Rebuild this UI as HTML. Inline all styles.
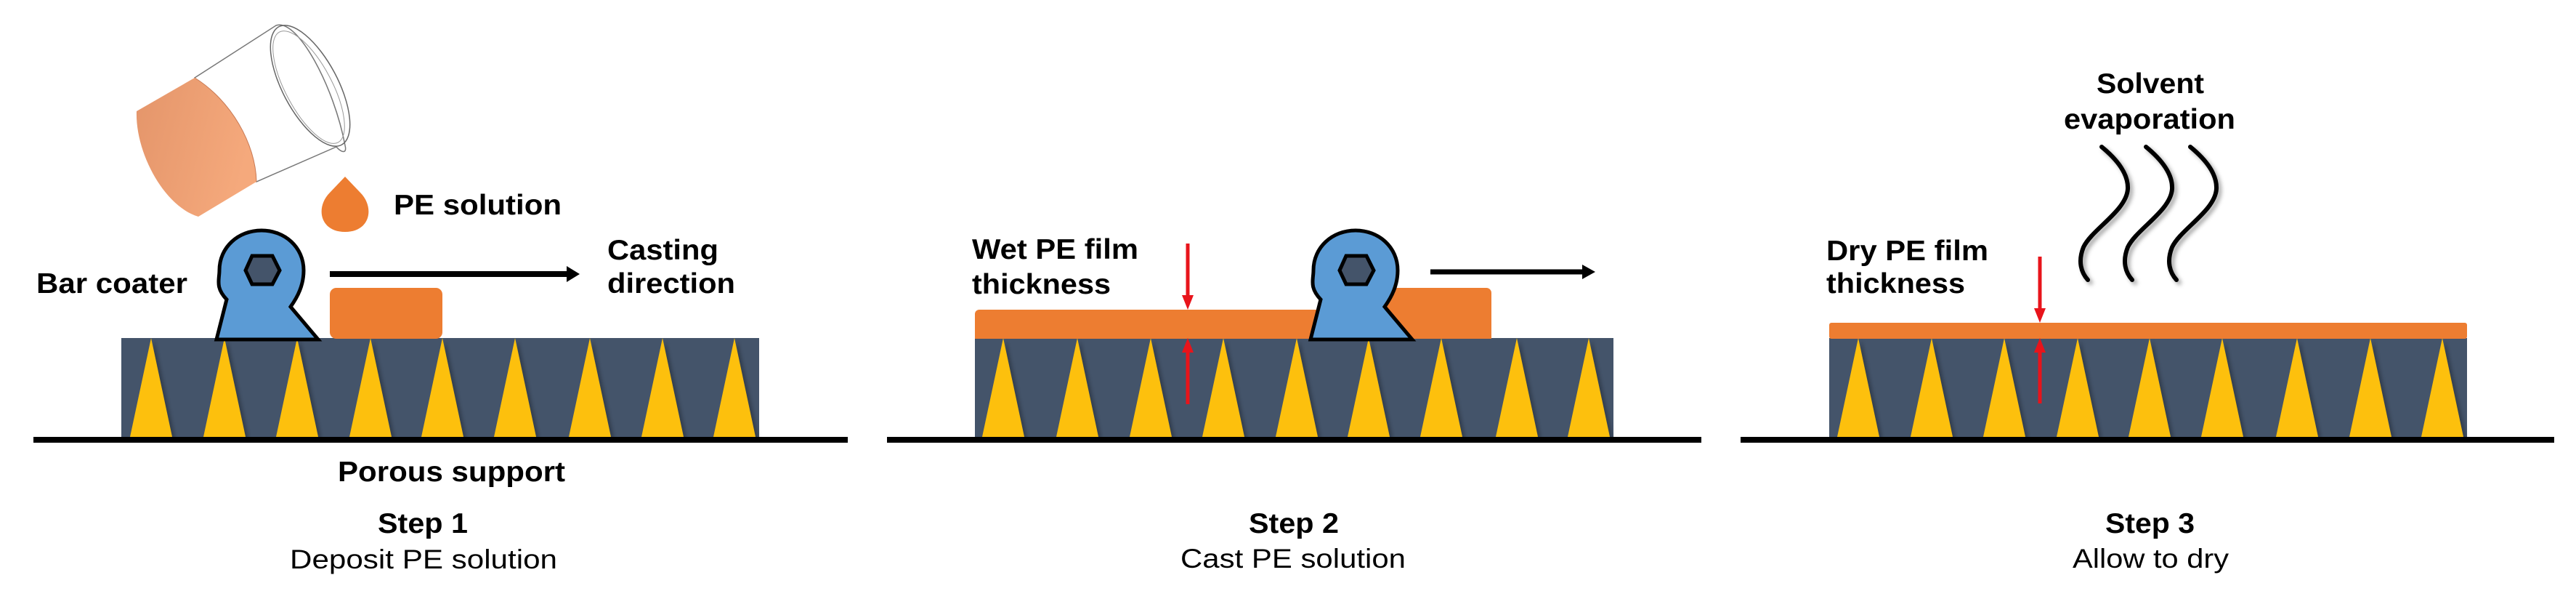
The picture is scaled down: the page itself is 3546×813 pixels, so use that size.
<!DOCTYPE html>
<html><head><meta charset="utf-8"><style>html,body{margin:0;padding:0;background:#fff}svg{display:block}</style></head>
<body>
<svg width="3546" height="813" viewBox="0 0 3546 813" xmlns="http://www.w3.org/2000/svg" font-family="Liberation Sans, Arial, sans-serif">
<defs>
<filter id="sh" x="-30%" y="-10%" width="160%" height="130%"><feDropShadow dx="4" dy="3" stdDeviation="3" flood-color="#000" flood-opacity="0.3"/></filter>
<filter id="sh2" x="-30%" y="-10%" width="160%" height="130%"><feDropShadow dx="4" dy="4" stdDeviation="3" flood-color="#000" flood-opacity="0.35"/></filter>
<linearGradient id="bk" x1="0" y1="0" x2="1" y2="0.3"><stop offset="0" stop-color="#E4956A"/><stop offset="1" stop-color="#F5A97C"/></linearGradient>
<g id="tri">
<polygon points="0,0 29,136 -29,136" fill="#FDC010" filter="url(#sh)"/>
</g>
<g id="coater">
<path d="M298,467 L312,412 C296,395 302,385 302,372 C302,340 328,317 360,317 C392,317 418,340 418,372 C418,392 410,408 400,422 L438,467 Z" fill="#5B9BD5" stroke="#000" stroke-width="5" stroke-linejoin="miter"/>
<polygon points="347,352 375,352 385,372 375,391 347,391 338,372" fill="#44546A" stroke="#000" stroke-width="5"/>
</g>
</defs>

<!-- STEP 1 -->
<g>
<path d="M268,107 L380,35 C410,25 460,120 475,200 C478,212 470,210 463,202 L353,250 Z" fill="#fff" stroke="#777" stroke-width="1.5"/>
<ellipse cx="427" cy="118" rx="38" ry="92" transform="rotate(-28 427 118)" fill="none" stroke="#666" stroke-width="1.5"/>
<ellipse cx="425" cy="120" rx="32" ry="86" transform="rotate(-28 425 120)" fill="none" stroke="#999" stroke-width="1"/>
<path d="M188,153 L268,107 C318,138 352,198 353,250 L273,298 C226,284 186,210 188,153 Z" fill="url(#bk)"/>
<path d="M268,107 C318,138 352,198 353,250" fill="none" stroke="#c97a55" stroke-width="1"/>
</g>
<path d="M475,243 L496,265 C516,285 510,319 475,319 C440,319 434,285 454,265 Z" fill="#ED7D31"/>
<rect x="167" y="465" width="878" height="136" fill="#44546A"/>
<g>
<use href="#tri" x="208" y="465"/><use href="#tri" x="309" y="465"/><use href="#tri" x="409" y="465"/><use href="#tri" x="510" y="465"/><use href="#tri" x="609" y="465"/><use href="#tri" x="709" y="465"/><use href="#tri" x="812" y="465"/><use href="#tri" x="912" y="465"/><use href="#tri" x="1011" y="465"/>
</g>
<rect x="46" y="601" width="1121" height="8" fill="#000"/>
<rect x="454" y="396" width="155" height="70" rx="9" fill="#ED7D31"/>
<use href="#coater"/>
<line x1="454" y1="377" x2="785" y2="377" stroke="#000" stroke-width="8"/>
<polygon points="780,366 798,377 780,388" fill="#000"/>
<g font-weight="bold" font-size="39" fill="#000">
<text x="542" y="295" textLength="231" lengthAdjust="spacingAndGlyphs">PE solution</text>
<text x="50" y="403" textLength="208" lengthAdjust="spacingAndGlyphs">Bar coater</text>
<text x="836" y="357" textLength="153" lengthAdjust="spacingAndGlyphs">Casting</text>
<text x="836" y="403" textLength="176" lengthAdjust="spacingAndGlyphs">direction</text>
<text x="465" y="662" textLength="313" lengthAdjust="spacingAndGlyphs">Porous support</text>
<text x="520" y="733" textLength="124" lengthAdjust="spacingAndGlyphs">Step 1</text>
</g>
<text x="399" y="782" font-size="37" textLength="368" lengthAdjust="spacingAndGlyphs">Deposit PE solution</text>

<!-- STEP 2 -->
<rect x="1342" y="465" width="879" height="136" fill="#44546A"/>
<g>
<use href="#tri" x="1381" y="465"/><use href="#tri" x="1483" y="465"/><use href="#tri" x="1584" y="465"/><use href="#tri" x="1684" y="465"/><use href="#tri" x="1785" y="465"/><use href="#tri" x="1884" y="465"/><use href="#tri" x="1984" y="465"/><use href="#tri" x="2088" y="465"/><use href="#tri" x="2187" y="465"/>
</g>
<rect x="1221" y="601" width="1121" height="8" fill="#000"/>
<rect x="1342" y="426" width="500" height="40" rx="6" fill="#ED7D31"/>
<rect x="1830" y="396" width="223" height="70" rx="7" fill="#ED7D31"/>
<rect x="1342" y="440" width="711" height="26" fill="#ED7D31"/>
<use href="#coater" x="1506"/>
<line x1="1969" y1="374" x2="2183" y2="374" stroke="#000" stroke-width="7"/>
<polygon points="2178,364 2196,374 2178,384" fill="#000"/>
<g stroke="#E8141B" stroke-width="5" fill="#E8141B">
<line x1="1635" y1="335" x2="1635" y2="410"/>
<polygon points="1627,406 1643,406 1635,426" stroke="none"/>
<line x1="1635" y1="480" x2="1635" y2="556"/>
<polygon points="1627,485 1643,485 1635,465" stroke="none"/>
</g>
<g font-weight="bold" font-size="39" fill="#000">
<text x="1338" y="356" textLength="229" lengthAdjust="spacingAndGlyphs">Wet PE film</text>
<text x="1338" y="404" textLength="191" lengthAdjust="spacingAndGlyphs">thickness</text>
<text x="1719" y="733" textLength="124" lengthAdjust="spacingAndGlyphs">Step 2</text>
</g>
<text x="1625" y="781" font-size="37" textLength="310" lengthAdjust="spacingAndGlyphs">Cast PE solution</text>

<!-- STEP 3 -->
<rect x="2518" y="465" width="878" height="136" fill="#44546A"/>
<g>
<use href="#tri" x="2558" y="465"/><use href="#tri" x="2659" y="465"/><use href="#tri" x="2759" y="465"/><use href="#tri" x="2860" y="465"/><use href="#tri" x="2959" y="465"/><use href="#tri" x="3059" y="465"/><use href="#tri" x="3162" y="465"/><use href="#tri" x="3263" y="465"/><use href="#tri" x="3362" y="465"/>
</g>
<rect x="2396" y="601" width="1120" height="8" fill="#000"/>
<rect x="2518" y="444" width="878" height="22" rx="3" fill="#ED7D31"/>
<g stroke="#E8141B" stroke-width="5" fill="#E8141B">
<line x1="2808" y1="353" x2="2808" y2="428"/>
<polygon points="2800,424 2816,424 2808,444" stroke="none"/>
<line x1="2808" y1="480" x2="2808" y2="555"/>
<polygon points="2800,485 2816,485 2808,465" stroke="none"/>
</g>
<g fill="none" stroke="#000" stroke-width="6" stroke-linecap="round" filter="url(#sh2)">
<path d="M2893,202 C2915,220 2930,240 2929,260 C2927,290 2880,315 2868,340 C2860,360 2865,375 2874,385"/>
<path d="M2954,202 C2976,220 2991,240 2990,260 C2988,290 2941,315 2929,340 C2921,360 2926,375 2935,385"/>
<path d="M3015,202 C3037,220 3052,240 3051,260 C3049,290 3002,315 2990,340 C2982,360 2987,375 2996,385"/>
</g>
<g font-weight="bold" font-size="39" fill="#000">
<text x="2886" y="128" textLength="148" lengthAdjust="spacingAndGlyphs">Solvent</text>
<text x="2841" y="177" textLength="236" lengthAdjust="spacingAndGlyphs">evaporation</text>
<text x="2514" y="358" textLength="223" lengthAdjust="spacingAndGlyphs">Dry PE film</text>
<text x="2514" y="403" textLength="191" lengthAdjust="spacingAndGlyphs">thickness</text>
<text x="2898" y="733" textLength="123" lengthAdjust="spacingAndGlyphs">Step 3</text>
</g>
<text x="2853" y="781" font-size="37" textLength="215" lengthAdjust="spacingAndGlyphs">Allow to dry</text>
</svg>
</body></html>
